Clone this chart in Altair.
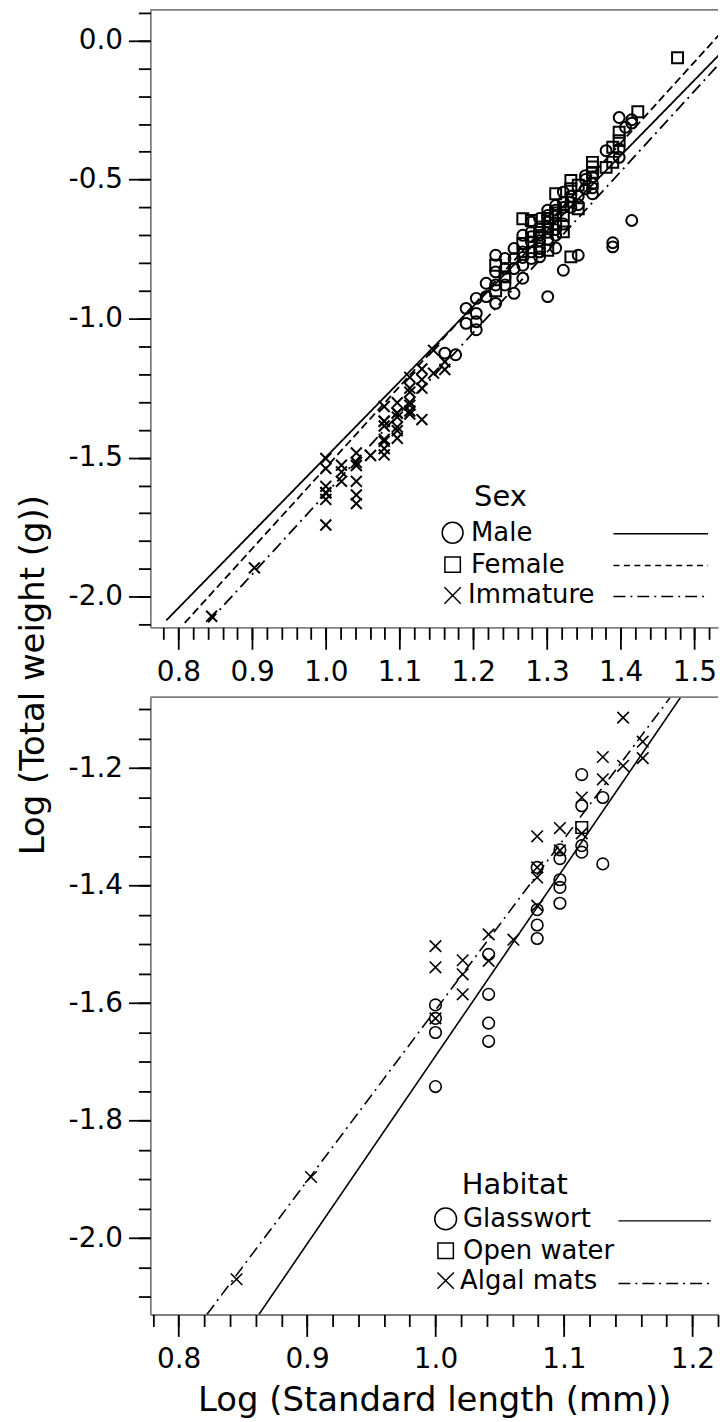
import altair as alt
import pandas as pd

FONT = "DejaVu Sans"
XPATH = "M-1,-1L1,1M1,-1L-1,1"

# ---------------- Top panel: by sex ----------------
MALE_X = [1.3979, 1.4150, 1.4150, 1.4065, 1.3802, 1.3979, 1.3979, 1.3522, 1.3617, 1.3617,
          1.3522, 1.3522, 1.3222, 1.3222, 1.3324, 1.3324, 1.3118, 1.3118, 1.3010, 1.3010,
          1.2900, 1.2900, 1.3010, 1.2788, 1.2788, 1.2788, 1.2900, 1.2900, 1.2788, 1.2672,
          1.2672, 1.2553, 1.2553, 1.2430, 1.2430, 1.2430, 1.2304, 1.2304, 1.2304, 1.2304,
          1.2175, 1.2175, 1.2041, 1.2041, 1.2041, 1.1903, 1.1903, 1.2553, 1.3118, 1.3424,
          1.3222, 1.3010, 1.4150, 1.3892, 1.3892, 1.2041, 1.1614, 1.1761, 1.2672, 1.3010,
          1.3118, 1.2900, 1.2900, 1.2900, 1.2788, 1.2788, 1.3010, 1.3010, 1.3118, 1.3118,
          1.3222, 1.3222, 1.3324, 1.3424, 1.3424, 1.3617, 1.3617, 1.2672, 1.2672, 1.2553,
          1.2430]
MALE_Y = [-0.277, -0.285, -0.297, -0.312, -0.396, -0.390, -0.420, -0.486, -0.515, -0.551,
          -0.533, -0.500, -0.545, -0.581, -0.581, -0.560, -0.593, -0.629, -0.629, -0.653,
          -0.670, -0.700, -0.610, -0.653, -0.688, -0.724, -0.748, -0.778, -0.784, -0.808,
          -0.855, -0.748, -0.784, -0.784, -0.820, -0.879, -0.772, -0.832, -0.879, -0.945,
          -0.873, -0.921, -0.927, -0.981, -1.011, -0.963, -1.017, -0.909, -0.746, -0.772,
          -0.826, -0.921, -0.647, -0.727, -0.742, -1.040, -1.124, -1.130, -0.700, -0.690,
          -0.700, -0.640, -0.720, -0.760, -0.705, -0.760, -0.670, -0.715, -0.610, -0.680,
          -0.600, -0.660, -0.600, -0.560, -0.590, -0.490, -0.530, -0.760, -0.780, -0.820,
          -0.850]
FEMALE_X = [1.4771, 1.4232, 1.3979, 1.3979, 1.3892, 1.3802, 1.3892, 1.3617, 1.3617, 1.3324,
            1.3324, 1.3424, 1.3118, 1.3222, 1.3222, 1.3118, 1.2672, 1.2788, 1.2672, 1.3010,
            1.3324, 1.2304, 1.2430, 1.2304, 1.2900, 1.3010, 1.3424, 1.3617, 1.3118]
FEMALE_Y = [-0.062, -0.256, -0.330, -0.360, -0.384, -0.456, -0.438, -0.438, -0.474, -0.503,
            -0.533, -0.605, -0.551, -0.629, -0.688, -0.659, -0.641, -0.647, -0.730, -0.754,
            -0.778, -0.808, -0.850, -0.900, -0.690, -0.640, -0.520, -0.455, -0.620]

# ---------------- Bottom panel: immature fish by habitat ----------------
GLASSWORT_X = [1.1303, 1.1139, 1.1139, 1.1139, 1.1139, 1.1303, 1.0969, 1.0969, 1.0969, 1.0969,
               1.0969, 1.0792, 1.0792, 1.0792, 1.0792, 1.0414, 1.0414, 1.0414, 1.0414, 1.0000,
               1.0000, 1.0000, 1.0000]
GLASSWORT_Y = [-1.250, -1.211, -1.264, -1.332, -1.343, -1.363, -1.339, -1.354, -1.390, -1.403,
               -1.430, -1.369, -1.441, -1.467, -1.490, -1.517, -1.585, -1.634, -1.665, -1.603,
               -1.626, -1.650, -1.742]
OPEN_X = [1.1139]
OPEN_Y = [-1.301]
ALGAL_X = [1.1461, 1.1303, 1.1614, 1.1461, 1.1614, 1.1303, 1.1139, 1.1139, 1.0969, 1.0969,
           1.0792, 1.0792, 1.0792, 1.0792, 1.0607, 1.0414, 1.0414, 1.0212, 1.0212, 1.0212,
           1.0000, 1.0000, 1.0000, 0.9031, 0.8451]
ALGAL_Y = [-1.114, -1.181, -1.155, -1.196, -1.183, -1.219, -1.250, -1.311, -1.302, -1.340,
           -1.316, -1.369, -1.386, -1.434, -1.492, -1.483, -1.528, -1.527, -1.551, -1.585,
           -1.503, -1.539, -1.626, -1.896, -2.070]

# Immature fish of the top panel are the same fish as the bottom panel
IMMATURE_X = GLASSWORT_X + OPEN_X + ALGAL_X
IMMATURE_Y = GLASSWORT_Y + OPEN_Y + ALGAL_Y

SEX_GROUPS = ["Male", "Female", "Immature"]
HAB_GROUPS = ["Glasswort", "Open water", "Algal mats"]

# Regression line end points
SEX_LINE_X0 = [0.7836, 0.8086, 0.8404]
SEX_LINE_Y0 = [-2.085, -2.094, -2.092]
SEX_LINE_X1 = [1.5330, 1.5330, 1.5330]
SEX_LINE_Y1 = [-0.053, 0.019, -0.086]
HAB_LINE_GROUPS = ["Glasswort", "Algal mats"]
HAB_LINE_X0 = [0.8625, 0.8220]
HAB_LINE_Y0 = [-2.130, -2.130]
HAB_LINE_X1 = [1.1910, 1.1830]
HAB_LINE_Y1 = [-1.079, -1.079]

# Axis ticks
TOP_X_MAJOR = [0.8, 0.9, 1.0, 1.1, 1.2, 1.3, 1.4, 1.5]
TOP_X_MINOR = [round(0.78 + 0.02 * i, 2) for i in range(38)]
TOP_Y_MAJOR = [0.0, -0.5, -1.0, -1.5, -2.0]
TOP_Y_MINOR = [round(0.1 - 0.1 * i, 1) for i in range(23)]
BOT_X_MAJOR = [0.8, 0.9, 1.0, 1.1, 1.2]
BOT_X_MINOR = [round(0.78 + 0.02 * i, 2) for i in range(23)]
BOT_Y_MAJOR = [-1.2, -1.4, -1.6, -1.8, -2.0]
BOT_Y_MINOR = [round(-1.1 - 0.05 * i, 2) for i in range(21)]

LABEL_EXPR = "(datum.value < 0 ? '-' : '') + format(abs(datum.value), '.1f')"
W, H = 570, 620
FRAME = "#7f7f7f"


def points_df(groups, xs, ys):
    rows = []
    for g, gx, gy in zip(groups, xs, ys):
        for a, b in zip(gx, gy):
            rows.append({"g": g, "x": a, "y": b})
    return pd.DataFrame(rows)


def lines_df(groups, x0, y0, x1, y1):
    rows = []
    for g, a0, b0, a1, b1 in zip(groups, x0, y0, x1, y1):
        rows.append({"g": g, "x": a0, "y": b0})
        rows.append({"g": g, "x": a1, "y": b1})
    return pd.DataFrame(rows)


def legend_layers(title, title_x, title_y, labels, shapes, sizes, sym_x, rows_y,
                  text_x, line_rows, dashes, lx1, lx2):
    dummy = pd.DataFrame({"a": [0]})
    out = [alt.Chart(dummy).mark_text(text=title, font=FONT, fontSize=29, align="center",
                                      baseline="alphabetic", color="black")
           .encode(x=alt.value(title_x), y=alt.value(title_y))]
    for i, lab in enumerate(labels):
        out.append(alt.Chart(dummy).mark_point(shape=shapes[i], size=sizes[i], filled=False,
                                               color="black", strokeWidth=1.5, opacity=1)
                   .encode(x=alt.value(sym_x), y=alt.value(rows_y[i])))
        out.append(alt.Chart(dummy).mark_text(text=lab, font=FONT, fontSize=26, align="left",
                                              baseline="middle", color="black")
                   .encode(x=alt.value(text_x[i]), y=alt.value(rows_y[i])))
    for ry, d in zip(line_rows, dashes):
        out.append(alt.Chart(dummy).mark_rule(color="black", strokeWidth=1.5, strokeDash=d)
                   .encode(x=alt.value(lx1), x2=alt.value(lx2), y=alt.value(ry)))
    return out


def panel(pdf, ldf, groups, line_groups, dashes, xdom, ydom, xmaj, xmin, ymaj, ymin,
          xtitle, psize, psw, lsw, legend):
    xs = alt.Scale(domain=xdom, nice=False, zero=False)
    ys = alt.Scale(domain=ydom, nice=False, zero=False)
    xaxis = dict(orient="bottom", values=xmaj, tickSize=22, labelPadding=9,
                 labelExpr=LABEL_EXPR, titlePadding=10)
    if xtitle:
        xaxis["title"] = xtitle
    else:
        xaxis["title"] = None
    pts = alt.Chart(pdf).mark_point(filled=False, color="black", strokeWidth=psw,
                                    size=psize, opacity=1).encode(
        x=alt.X("x:Q", scale=xs, axis=alt.Axis(**xaxis)),
        y=alt.Y("y:Q", scale=ys, axis=alt.Axis(orient="left", values=ymaj, tickSize=22,
                                               labelPadding=6, labelExpr=LABEL_EXPR,
                                               title=None)),
        shape=alt.Shape("g:N", scale=alt.Scale(domain=groups,
                                               range=["circle", "square", XPATH]),
                        legend=None),
    )
    lines = alt.Chart(ldf).mark_line(color="black", strokeWidth=lsw, clip=True).encode(
        x=alt.X("x:Q", scale=xs, axis=alt.Axis(orient="bottom", values=xmin, tickSize=12,
                                               labels=False, domain=False, title=None)),
        y=alt.Y("y:Q", scale=ys, axis=alt.Axis(orient="left", values=ymin, tickSize=12,
                                               labels=False, domain=False, title=None)),
        strokeDash=alt.StrokeDash("g:N", scale=alt.Scale(domain=line_groups, range=dashes),
                                  legend=None),
        detail="g:N",
    )
    frame = alt.Chart(pd.DataFrame({"a": [0]})).mark_rule(color=FRAME, strokeWidth=1.8).encode(
        x=alt.value(0), x2=alt.value(W), y=alt.value(0))
    return alt.layer(pts, lines, frame, *legend).properties(width=W, height=H).resolve_axis(
        x="independent", y="independent")


top = panel(
    points_df(SEX_GROUPS, [MALE_X, FEMALE_X, IMMATURE_X], [MALE_Y, FEMALE_Y, IMMATURE_Y]),
    lines_df(SEX_GROUPS, SEX_LINE_X0, SEX_LINE_Y0, SEX_LINE_X1, SEX_LINE_Y1),
    SEX_GROUPS, SEX_GROUPS, [[1, 0], [8, 4], [12, 5, 2, 5]],
    [0.762, 1.532], [-2.11, 0.11], TOP_X_MAJOR, TOP_X_MINOR, TOP_Y_MAJOR, TOP_Y_MINOR,
    None, 120, 2.0, 1.8,
    legend_layers("Sex", 351.5, 498, SEX_GROUPS, ["circle", "square", XPATH], [440, 240, 270],
                  303.5, [525, 557, 588], [322, 322, 319], [526, 558, 589],
                  [[1, 0], [6, 4.5], [12, 5, 2, 5]], 465, 560),
)

bottom = panel(
    points_df(HAB_GROUPS, [GLASSWORT_X, OPEN_X, ALGAL_X], [GLASSWORT_Y, OPEN_Y, ALGAL_Y]),
    lines_df(HAB_LINE_GROUPS, HAB_LINE_X0, HAB_LINE_Y0, HAB_LINE_X1, HAB_LINE_Y1),
    HAB_GROUPS, HAB_LINE_GROUPS, [[1, 0], [12, 5, 2, 5]],
    [0.778, 1.22], [-2.13, -1.079], BOT_X_MAJOR, BOT_X_MINOR, BOT_Y_MAJOR, BOT_Y_MINOR,
    "Log (Standard length (mm))", 135, 1.6, 1.6,
    legend_layers("Habitat", 366, 499, HAB_GROUPS, ["circle", "square", XPATH], [480, 240, 270],
                  296.5, [524, 556, 586], [314, 314, 311], [526, 589],
                  [[1, 0], [12, 5, 2, 5]], 470, 563),
)

chart = alt.vconcat(top, bottom, spacing=70, bounds="flush").resolve_scale(
    shape="independent", strokeDash="independent"
).properties(
    title=alt.TitleParams(text="Log (Total weight (g))", orient="left", anchor="middle",
                          fontSize=34, font=FONT, fontWeight="normal", color="black",
                          offset=17, dx=38),
    padding={"left": 16, "top": 5, "right": 0, "bottom": 0},
).configure_view(stroke="transparent").configure_axis(
    labelFont=FONT, labelFontSize=28, labelColor="black", tickColor="black", tickWidth=1.8,
    domainColor=FRAME, domainWidth=1.8, grid=False, titleFont=FONT, titleFontSize=34,
    titleFontWeight="normal", titleColor="black", labelFlush=False, labelOverlap=False,
)

chart.save("out.html", embed_options={"renderer": "svg", "actions": False})
